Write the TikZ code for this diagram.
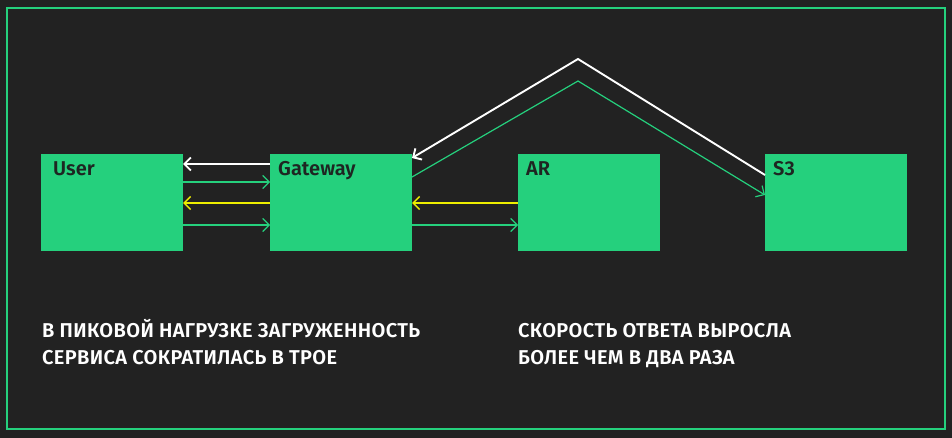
\documentclass[tikz,border=0pt]{standalone}
\usepackage{fontspec}
\setmainfont{Fira Sans}[UprightFont=* Medium, BoldFont=* SemiBold]
\usetikzlibrary{arrows.meta}
\definecolor{bg}{HTML}{222222}
\definecolor{grn}{HTML}{25D07D}
\definecolor{ylw}{HTML}{EEEE00}
\definecolor{dark}{HTML}{1E2622}
\tikzset{
  box/.style={anchor=north west, minimum width=142pt, minimum height=97pt, fill=grn, draw=none, inner sep=0pt, outer sep=0pt},
  lbl/.style={anchor=base west, inner sep=0pt, text=dark, font=\fontsize{20}{22}\selectfont\bfseries},
  txt/.style={anchor=base west, inner sep=0pt, text=white, font=\fontsize{20}{22}\selectfont\bfseries\addfontfeatures{LetterSpace=1.8}},
  tip/.style={-{Straight Barb[length=6.5pt,width=13pt]}},
  warr/.style={tip, draw=white, line width=1.9pt},
  garr/.style={tip, draw=grn, line width=1.2pt},
  yarr/.style={tip, draw=ylw, line width=1.5pt},
}
\begin{document}
\begin{tikzpicture}[x=1pt,y=-1pt]
\fill[bg] (0,0) rectangle (952,438);
\useasboundingbox (0,0) rectangle (952,438);
\draw[grn, line width=1.3pt] (7,8) rectangle (945,429);

\node[box] (user) at (41,154) {};
\node[box] (gw) at (270,154) {};
\node[box] (ar) at (518,154) {};
\node[box] (s3) at (765,154) {};

\node[lbl] (userlbl) at (53,176) {User};
\node[lbl] (gwlbl) at (278,176) {Gateway};
\node[lbl] (arlbl) at (526,176) {AR};
\node[lbl] (s3lbl) at (773,176) {S3};

\draw[warr] (gw.west |- 0,164) -- (user.east |- 0,164);
\draw[garr] (user.east |- 0,182) -- (gw.west |- 0,182);
\draw[yarr] (gw.west |- 0,203) -- (user.east |- 0,203);
\draw[garr] (user.east |- 0,225) -- (gw.west |- 0,225);
\draw[yarr] (ar.west |- 0,203) -- (gw.east |- 0,203);
\draw[garr] (gw.east |- 0,225) -- (ar.west |- 0,225);

\coordinate (apexw) at (578,59);
\coordinate (apexg) at (578,81);
\draw[warr] (s3.west |- 0,175) -- (apexw) -- (gw.east |- 0,158);
\draw[garr] (gw.east |- 0,177) -- (apexg) -- (s3.west |- 0,195);

\node[txt] (t1) at (42,337) {В ПИКОВОЙ НАГРУЗКЕ ЗАГРУЖЕННОСТЬ};
\node[txt] (t2) at (42,364) {СЕРВИСА СОКРАТИЛАСЬ В ТРОЕ};
\node[txt] (t3) at (518,337) {СКОРОСТЬ ОТВЕТА ВЫРОСЛА};
\node[txt] (t4) at (518,364) {БОЛЕЕ ЧЕМ В ДВА РАЗА};
\end{tikzpicture}
\end{document}
